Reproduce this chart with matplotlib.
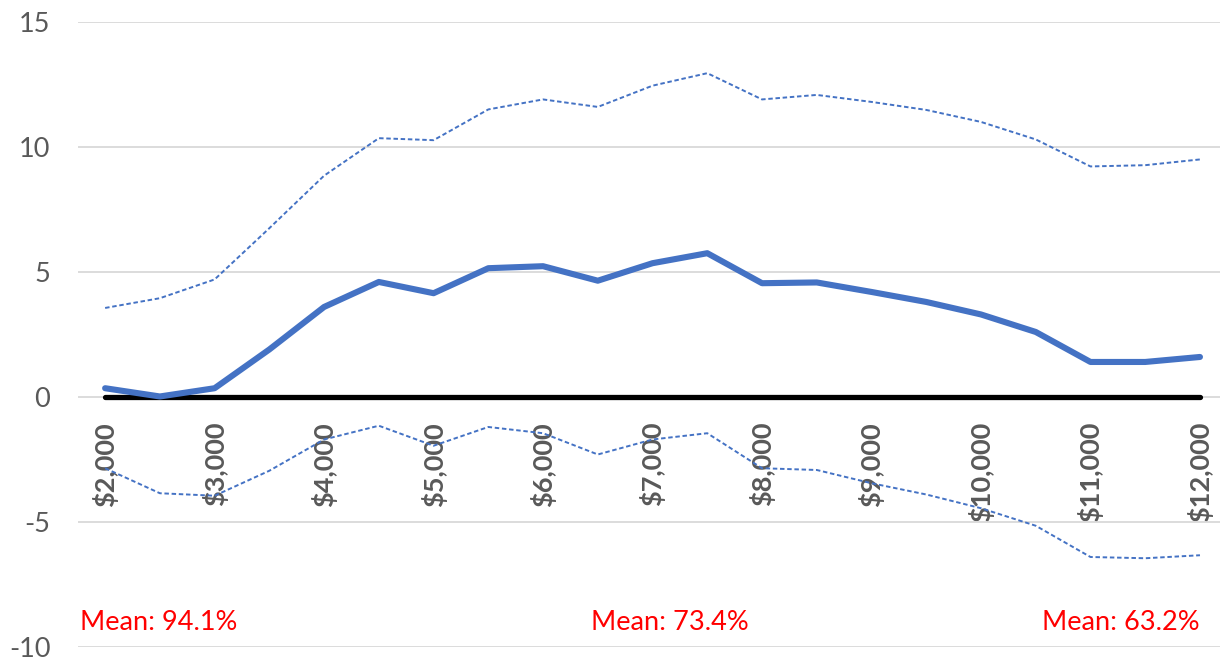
import matplotlib
matplotlib.use('Agg')
import matplotlib.pyplot as plt
import numpy as np

plt.rcParams['font.family'] = ['Lato', 'DejaVu Sans']
plt.rcParams['axes.unicode_minus'] = False

# salary levels, every $500
salary = [2000, 2500, 3000, 3500, 4000, 4500, 5000, 5500, 6000, 6500, 7000,
          7500, 8000, 8500, 9000, 9500, 10000, 10500, 11000, 11500, 12000]
effect = [0.35, 0.02, 0.35, 1.9, 3.6, 4.6, 4.15, 5.15, 5.23, 4.65, 5.35,
          5.75, 4.55, 4.58, 4.2, 3.8, 3.3, 2.6, 1.4, 1.4, 1.6]
upper = [3.56, 3.95, 4.7, 6.75, 8.85, 10.35, 10.27, 11.5, 11.9, 11.6, 12.45,
         12.95, 11.9, 12.08, 11.8, 11.48, 11.0, 10.3, 9.22, 9.27, 9.5]
lower = [-2.85, -3.85, -3.95, -2.95, -1.7, -1.15, -1.95, -1.2, -1.45, -2.3, -1.7,
         -1.45, -2.85, -2.92, -3.45, -3.9, -4.45, -5.15, -6.4, -6.45, -6.33]
zero = [0] * len(salary)

tick_vals = [2000, 3000, 4000, 5000, 6000, 7000, 8000, 9000, 10000, 11000, 12000]
tick_labels = ['$2,000', '$3,000', '$4,000', '$5,000', '$6,000', '$7,000',
               '$8,000', '$9,000', '$10,000', '$11,000', '$12,000']

means = ['Mean: 94.1%', 'Mean: 73.4%', 'Mean: 63.2%']

blue = '#4472C4'
grey = '#595959'

fig = plt.figure(figsize=(12.2, 6.58), dpi=100)
ax = fig.add_axes([0.064, 0.0167, 0.936, 0.95])

ax.plot(salary, upper, color=blue, lw=1.4, dashes=(2.3, 1.4))
ax.plot(salary, lower, color=blue, lw=1.4, dashes=(2.3, 1.4))
ax.plot(salary, zero, color='black', lw=3.8, solid_capstyle='round', zorder=3)
ax.plot(salary, effect, color=blue, lw=4.4, solid_capstyle='round', zorder=4)

ax.set_xlim(1753, 12183)
ax.set_ylim(-10, 15)
ax.set_yticks([-10, -5, 0, 5, 10, 15])
ax.yaxis.grid(True, color='#D9D9D9', lw=1.3)
ax.set_axisbelow(True)

for s in ['top', 'right', 'left']:
    ax.spines[s].set_visible(False)
ax.spines['bottom'].set_position(('data', 0))
ax.spines['bottom'].set_visible(False)

ax.set_xticks(tick_vals)
ax.set_xticklabels(tick_labels, rotation=90, fontsize=19.5, fontweight='bold', color=grey)
ax.tick_params(axis='x', length=0, pad=18)
ax.tick_params(axis='y', length=0, pad=20, labelsize=19.5, labelcolor=grey)

ax.text(1772, -9.32, means[0], color='red', fontsize=19.5, ha='left', va='baseline')
ax.text(7160, -9.32, means[1], color='red', fontsize=19.5, ha='center', va='baseline')
ax.text(12000, -9.32, means[2], color='red', fontsize=19.5, ha='right', va='baseline')

fig.savefig('out.png', dpi=100)
